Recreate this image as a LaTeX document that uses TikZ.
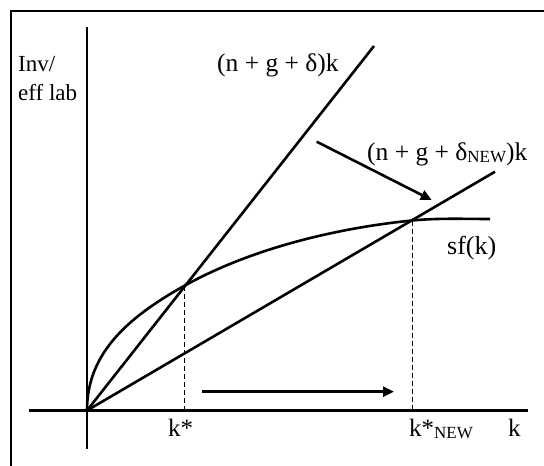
\documentclass[tikz,border=0pt]{standalone}
\usepackage{fontspec}
\setmainfont{Liberation Serif}
\usetikzlibrary{arrows.meta}
\newcommand{\lowsub}[1]{\raisebox{-2pt}{\fontsize{17}{17}\selectfont #1}}

\begin{document}
\begin{tikzpicture}[
  x=1pt, y=-1pt,
  font=\fontsize{25}{29}\selectfont,
  ax/.style={line width=2.5pt},
  curve/.style={line width=2.6pt},
  guide/.style={line width=1pt, dash pattern=on 5pt off 3pt},
  arr/.style={-{Triangle[length=11pt,width=10pt]}, line width=2.6pt},
  lbl/.style={inner sep=0pt, anchor=base west},
]
\useasboundingbox (0,0) rectangle (544,466);
\clip (0,0) rectangle (544,466);

% frame (only top and left edges are inside the page)
\draw[line width=2.6pt] (11,11) rectangle (580,500);

% axes
\coordinate (O) at (87,410.5);
\coordinate (ytop) at (87,27);
\coordinate (ybot) at (87,449);
\coordinate (xleft) at (29,410.5);
\coordinate (xright) at (528,410.5);
\draw[ax] (ybot) -- (ytop);
\draw[ax] (xleft) -- (xright);

% steady states and line ends
\coordinate (E1) at (184,286);
\coordinate (E2) at (412,220.5);
\coordinate (S1) at (374,46);
\coordinate (S2) at (495,171.7);
\coordinate (F) at (490,219);

\draw[curve] (O) -- (S1);
\draw[curve] (O) -- (S2);
\draw[curve] (O) .. controls (87,355) and (125,319) .. (E1)
  .. controls (254,246.8) and (342,227.5) .. (E2)
  .. controls (438,217.9) and (465,219) .. (F);

\draw[guide] (E1) -- (E1 |- O);
\draw[guide] (E2) -- (E2 |- O);

% shifts
\coordinate (A1) at (316.7,141.7);
\coordinate (B1) at (431.7,200);
\coordinate (A2) at (201.7,391.7);
\coordinate (B2) at (394,391.7);
\draw[arr] (A1) -- (B1);
\draw[arr] (A2) -- (B2);

% labels
\node[lbl, font=\fontsize{23}{27}\selectfont] (inv) at (18,71.7) {Inv/};
\node[lbl, font=\fontsize{23}{27}\selectfont] (efflab) at (18,100) {eff lab};
\node[lbl, font=\fontsize{25.5}{29}\selectfont] (oldlab) at (217,71.7) {(n + g + δ)k};
\node[lbl, font=\fontsize{25.5}{29}\selectfont] (newlab) at (367,160) {(n + g + δ\lowsub{NEW})k};
\node[lbl, font=\fontsize{26}{30}\selectfont] (sflab) at (447,254) {sf(k)};
\node[lbl] (kstar) at (168,436.7) {k*};
\node[lbl] (knew) at (409,436.7) {k*\lowsub{NEW}};
\node[lbl] (klab) at (508,436.7) {k};

\end{tikzpicture}
\end{document}
